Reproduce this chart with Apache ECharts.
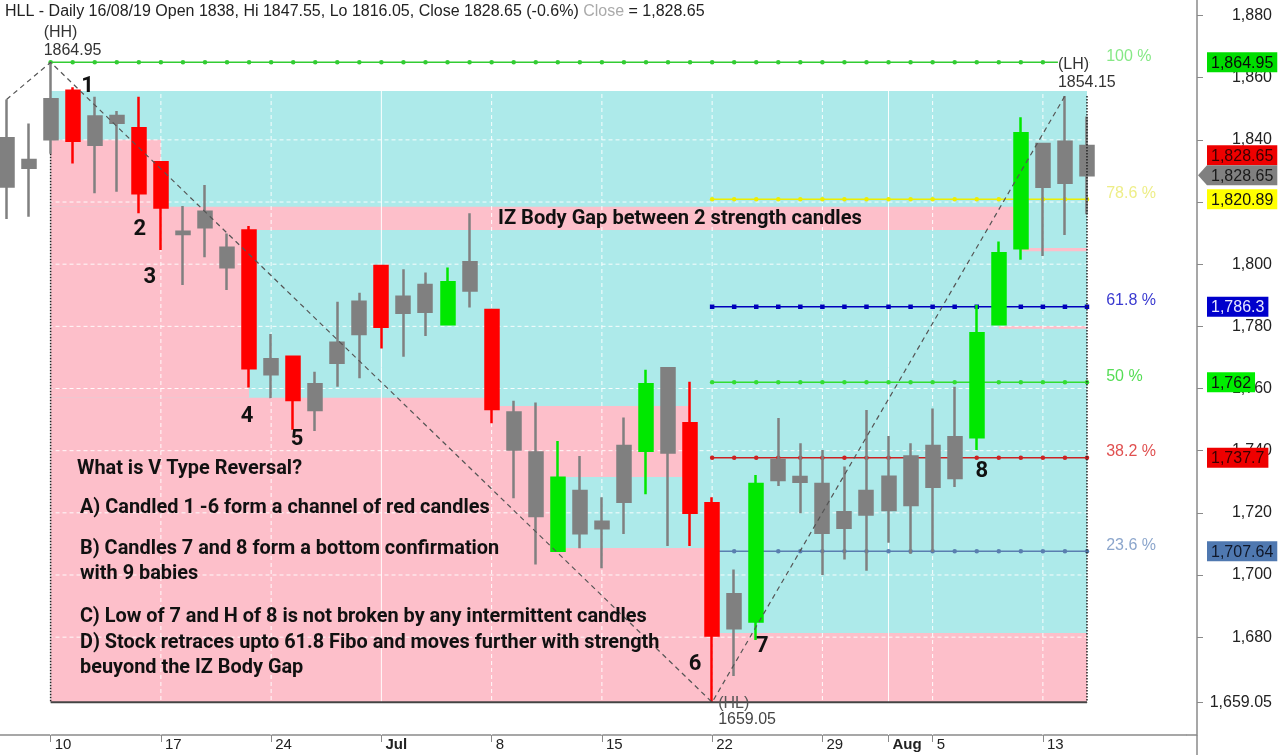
<!DOCTYPE html>
<html><head><meta charset="utf-8">
<script src="https://cdn.jsdelivr.net/npm/echarts@6/dist/echarts.min.js"></script>
<style>html,body{margin:0;padding:0;background:#fff;}#c{width:1280px;height:755px;}</style>
</head><body><div id="c"></div>
<script>
// ---------------- data ----------------
const dates = ['06/06','07/06','10/06','11/06','12/06','13/06','14/06','17/06','18/06','19/06','20/06','21/06',
 '24/06','25/06','26/06','27/06','28/06','01/07','02/07','03/07','04/07','05/07','08/07','09/07','10/07','11/07','12/07',
 '15/07','16/07','17/07','18/07','19/07','22/07','23/07','24/07','25/07','26/07','29/07','30/07','31/07','01/08','02/08',
 '05/08','06/08','07/08','08/08','09/08','13/08','14/08','16/08'];
const futureSlots = ['19/08','20/08','21/08','22/08'];
const opens  = [1840.5,1831,1840.2,1855.8,1847.5,1845.5,1843.7,1832.8,1810.4,1811.9,1805.3,1810.8,1764.6,1770.2,1761.4,1768.3,1777.5,1799.4,1784.4,1784.7,1780.7,1791.5,1785.3,1752.3,1739.4,1707.8,1713.4,1717.1,1723.6,1740,1766.5,1748.8,1723.1,1682.9,1685,1730.6,1731.5,1729.3,1715.2,1719.5,1720.9,1722.5,1728.4,1731.2,1744.3,1780.7,1805.1,1838.7,1826.2,1838];
const closes = [1825,1833.5,1853.1,1839.7,1838.4,1847.7,1822.8,1818.2,1809.7,1816.9,1799,1766.5,1769.4,1756.3,1753.1,1774.7,1787.9,1779.9,1789.5,1793.3,1794.2,1800.6,1753.4,1740.4,1719,1731.3,1727,1715,1741.5,1761.4,1739.4,1720,1680.5,1693.8,1729.3,1737,1730,1713.6,1720.2,1727,1731.6,1738.1,1741.5,1744.3,1777.8,1803.5,1842.1,1824.9,1839.4,1828.65];
const lows   = [1814.5,1815.3,1835.5,1832.4,1822.8,1823.3,1816.4,1804.6,1793.3,1802.2,1791.7,1760.3,1756.9,1746.7,1746.3,1760.6,1763.3,1772.9,1770.2,1776.9,1780.5,1786.1,1748.8,1724.7,1703.4,1707.6,1708.6,1702.2,1713.2,1726,1709.3,1709.3,1659.05,1667.5,1679.1,1728.6,1719.9,1700,1705,1701.4,1710.4,1706.8,1707.5,1728.3,1740.2,1780.5,1801.4,1802.6,1809.4,1816.05];
const highs  = [1853,1845.3,1864.95,1856.9,1853.9,1849.3,1853.9,1833,1818.7,1825.5,1809.9,1812.3,1777.5,1770.5,1765.4,1787.9,1790.8,1799.6,1798.4,1797.3,1798.9,1816.4,1785.5,1756.1,1755.5,1743.1,1738.3,1725,1750.7,1766,1766.7,1762.2,1725,1701.8,1732.2,1750.5,1742.4,1740.2,1734.9,1753.1,1744.7,1742.4,1753.6,1760.6,1786.9,1807.3,1847.3,1839,1854.15,1847.55];
// N = normal, R = bearish strength, G = bullish strength
const candleKind = ['N','N','N','R','N','N','R','R','N','N','N','R','N','R','N','N','N','R','N','N','G','N','R','N','N','G','N','N','N','G','N','R','R','N','G','N','N','N','N','N','N','N','N','N','G','G','G','N','N','N'];
const weekTickDates = ['10/06','17/06','24/06','01/07','08/07','15/07','22/07','29/07','01/08','05/08','13/08'];
const weekTickText  = ['10','17','24','Jul','8','15','22','29','Aug','5','13'];
const yTickValues = [1659.05,1680,1700,1720,1740,1760,1780,1800,1820,1840,1860,1880];
const gridValues = [1680,1700,1720,1740,1760,1780,1800,1820,1840,1860];
const fibLevels = [100,78.6,61.8,50,38.2,23.6];
const fibValues = [1864.95,1820.89,1786.3,1762,1737.7,1707.64];
const fibStart  = ['10/06','22/07','22/07','22/07','22/07','22/07'];
const zoneCyan = ['10/06','16/08',1659.05,1855.7];
const zonesPink = [
 ['10/06','17/06',1818.5,1840],
 ['10/06','09/08',1811,1818.5],
 ['10/06','21/06',1757,1811],
 ['10/06','08/07',1754.4,1757],
 ['10/06','19/07',1731.5,1754.4],
 ['10/06','11/07',1708.7,1731.5],
 ['10/06','22/07',1681.3,1708.7],
 ['10/06','16/08',1659.05,1681.3],
 ['09/08','16/08',1804.2,1805.2],
 ['08/08','16/08',1779.2,1780.1]
];
const candleNotes = [['1','11/06','high'],['2','14/06','low'],['3','17/06','low'],['4','21/06','low'],['5','25/06','low'],['6','22/07','low'],['7','24/07','low'],['8','07/08','low']];
const notesText = [
 'What is V Type Reversal?',
 'A) Candled 1 -6 form a channel of red candles',
 'B) Candles 7 and 8 form a bottom confirmation',
 'with 9 babies',
 'C) Low of 7 and H of 8 is not broken by any intermittent candles',
 'D) Stock retraces upto 61.8 Fibo and moves further with strength',
 'beuyond the IZ Body Gap'
];
const gapText = 'IZ Body Gap between 2 strength candles';

// ---------------- derived ----------------
const categories = dates.concat(futureSlots);
const N = dates.length, last = N - 1;
const hhIdx = highs.indexOf(Math.max(...highs));
const hlIdx = lows.indexOf(Math.min(...lows));
let lhIdx = hlIdx + 1;
for (let i = hlIdx + 1; i < N; i++) if (highs[i] > highs[lhIdx]) lhIdx = i;
const swingHigh = highs[hhIdx], swingLow = lows[hlIdx], lowerHigh = highs[lhIdx];
const Y_MIN = 1648.52, Y_MAX = 1885.0;
const ARIAL = '"Liberation Sans", Arial, sans-serif';
const BOLDF = 'Roboto, "Open Sans", sans-serif';
const kindColor = {N:'#808080', R:'#ff0000', G:'#00e800'};
const fibLine = ['#33cc33','#eeee00','#0000bb','#33dd33','#cc2222','#5a7fb0'];
const fibText = ['#86e886','#eeee88','#3a3ad0','#55dd55','#e05050','#8ca6cc'];
const fibSym  = ['circle','circle','rect','circle','circle','circle'];
const fmt = v => v.toLocaleString('en-US', {maximumFractionDigits: 2});

const tickIdxSet = new Set(weekTickDates.map(d => categories.indexOf(d)));
const tickTextMap = {}; weekTickDates.forEach((d, k) => tickTextMap[d] = weekTickText[k]);

// gridlines data
const hData = [];
gridValues.forEach(v => { hData.push([categories[0], v], [categories[categories.length-1], v], [categories[categories.length-1], '-']); });
const vSolid = [], vDash = [];
weekTickDates.forEach((d, k) => {
  const arr = /[A-Za-z]/.test(weekTickText[k]) ? vSolid : vDash;
  arr.push([d, Y_MIN], [d, Y_MAX], [d, '-']);
});

const series = [];
series.push({type:'line', z:2, silent:true, symbol:'none', data:hData,
  lineStyle:{color:'#ffffff', width:1, type:[4,3], opacity:0.9}, animation:false,
  markArea:{silent:true, z:1, label:{show:false}, itemStyle:{color:'#adeaea', opacity:1},
    data:[[{xAxis:zoneCyan[0], yAxis:zoneCyan[2]},{xAxis:zoneCyan[1], yAxis:zoneCyan[3]}]]}});
series.push({type:'line', z:2, silent:true, symbol:'none', data:vDash,
  lineStyle:{color:'#ffffff', width:1, type:[4,3], opacity:0.9},
  markArea:{silent:true, z:1, label:{show:false}, itemStyle:{color:'#fdbfca', opacity:1},
    data: zonesPink.map(z => [{xAxis:z[0], yAxis:z[2]},{xAxis:z[1], yAxis:z[3]}])}});
series.push({type:'line', z:2, silent:true, symbol:'none', data:vSolid,
  lineStyle:{color:'#ffffff', width:1, opacity:0.95}});

fibValues.forEach((v, k) => {
  const s = dates.indexOf(fibStart[k]);
  const d = dates.slice(s).map((dt, j, arr) => j === arr.length - 1
    ? {value:[dt, v], label:{show:true, position:'right', distance:17, offset:[0,-6],
        formatter: fibLevels[k] + ' %', color: fibText[k], fontSize:16, fontFamily:ARIAL}}
    : [dt, v]);
  series.push({type:'line', z:3, silent:true, data:d, symbol:fibSym[k], symbolSize:4.5, showSymbol:true,
    lineStyle:{color:fibLine[k], width:1.6}, itemStyle:{color:fibLine[k]}});
});

series.push({type:'candlestick', z:4, silent:true, barWidth:13.5,
  data: dates.map((d, i) => {
    const c = kindColor[candleKind[i]];
    return {value:[opens[i], closes[i], lows[i], highs[i]],
      itemStyle:{color:c, color0:c, borderColor:c, borderColor0:c, borderColorDoji:c, borderWidth:2.5}};
  })});

series.push({type:'line', z:5, silent:true, symbol:'none',
  data:[[dates[0], highs[0]],[dates[hhIdx], swingHigh],[dates[hlIdx], swingLow],[dates[lhIdx], lowerHigh]],
  lineStyle:{color:'#555', width:1.2, type:[5,4]}});
series.push({type:'line', z:5, silent:true, symbol:'none',
  data:[[dates[hhIdx], lows[hhIdx]],[dates[hhIdx], swingLow],[dates[last], '-'],[dates[last], lowerHigh],[dates[last], swingLow]],
  lineStyle:{color:'#222', width:1.5, type:[1.5,1.5]}});
series.push({type:'line', z:5, silent:true, symbol:'none',
  data:[[dates[hhIdx], swingLow],[dates[last], swingLow]],
  lineStyle:{color:'#444', width:2}});

const option = {
  animation:false,
  backgroundColor:'#ffffff',
  grid:{left:-4.5, top:0, width:1190.7, height:735, containLabel:false, outerBoundsMode:'none'},
  xAxis:{type:'category', data:categories, boundaryGap:true,
    axisLine:{show:true, lineStyle:{color:'#8a8a8a', width:1.5}},
    axisTick:{show:true, alignWithLabel:true, length:7, interval:(i)=>tickIdxSet.has(i), lineStyle:{color:'#8a8a8a'}},
    axisLabel:{show:true, interval:(i)=>tickIdxSet.has(i), align:'left', margin:2, padding:[0,0,0,4],
      fontSize:15, fontFamily:ARIAL, color:'#222',
      formatter:(v)=>{ const t = tickTextMap[v] || ''; return /[A-Za-z]/.test(t) ? '{b|'+t+'}' : t; },
      rich:{b:{fontWeight:'bold', fontSize:15, fontFamily:ARIAL, color:'#222'}}},
    splitLine:{show:false}},
  yAxis:{type:'value', position:'right', offset:10.8, min:Y_MIN, max:Y_MAX, scale:true,
    axisLine:{show:true, lineStyle:{color:'#8a8a8a', width:1.5}},
    axisTick:{show:true, length:6, customValues:yTickValues, lineStyle:{color:'#8a8a8a'}},
    axisLabel:{show:true, customValues:yTickValues, align:'right', margin:75, fontSize:16, fontFamily:ARIAL, color:'#222',
      formatter:(v)=>fmt(v)},
    splitLine:{show:false}},
  series: series
};

const chart = echarts.init(document.getElementById('c'), null, {width:1280, height:755});
chart.setOption(option);

// ---------------- annotations ----------------
const px = (i, v) => chart.convertToPixel({xAxisIndex:0, yAxisIndex:0}, [i, v]);
const mctx = document.createElement('canvas').getContext('2d');
function fit(text, w){ mctx.font = 'bold 100px ' + BOLDF; return 100 * w / mctx.measureText(text).width; }
function twidth(text, size){ mctx.font = size + 'px ' + ARIAL; return mctx.measureText(text).width; }

const g = [];
const band = px(1, 0)[0] - px(0, 0)[0];
const plotRight = px(categories.length - 1, 0)[0] + band / 2;
const axisX = plotRight + 10.8;
const yBottom = px(0, Y_MIN)[1];
g.push({type:'line', z:50, shape:{x1:plotRight, y1:yBottom, x2:axisX, y2:yBottom}, style:{stroke:'#8a8a8a', lineWidth:1.5}});
g.push({type:'line', z:50, shape:{x1:axisX, y1:yBottom, x2:axisX, y2:755}, style:{stroke:'#8a8a8a', lineWidth:1.5}});

// title
const pct = ((closes[last] - closes[last-1]) / closes[last-1] * 100).toFixed(1);
const t1 = `HLL - Daily ${dates[last]}/19 Open ${opens[last]}, Hi ${highs[last]}, Lo ${lows[last]}, Close ${closes[last]} (${pct}%) `;
g.push({type:'text', z:60, x:5, y:12, style:{text:'{a|'+t1+'}{b|Close}{a| = '+fmt(closes[last])+'}', verticalAlign:'middle', align:'left',
  rich:{a:{fontSize:16, fontFamily:ARIAL, fill:'#222'}, b:{fontSize:16, fontFamily:ARIAL, fill:'#aaa'}}}});

// swing labels
function swing(tag, val, i, v, dx, dy){
  const p = px(i, v);
  g.push({type:'text', z:60, x:p[0]+dx, y:p[1]+dy, style:{text:tag, fontSize:16, fontFamily:ARIAL, fill:'#333', align:'left', verticalAlign:'middle', backgroundColor:'#fff'}});
  g.push({type:'text', z:60, x:p[0]+dx, y:p[1]+dy+18, style:{text:String(val), fontSize:16, fontFamily:ARIAL, fill:'#333', align:'left', verticalAlign:'middle'}});
}
swing('(HH)', swingHigh, hhIdx, swingHigh, -7, -30);
swing('(LH)', lowerHigh, lhIdx, lowerHigh, -7, -31);
{
  const p = px(hlIdx, swingLow);
  g.push({type:'text', z:60, x:p[0]+6, y:p[1]+1, style:{text:'(HL)', fontSize:16, fontFamily:ARIAL, fill:'#555', align:'left', verticalAlign:'middle'}});
  g.push({type:'text', z:60, x:p[0]+6, y:p[1]+17, style:{text:String(swingLow), fontSize:16, fontFamily:ARIAL, fill:'#444', align:'left', verticalAlign:'middle'}});
}

// candle numbers
const noteOffset = {'1':[15,-1],'2':[1,16],'3':[-11,28],'4':[-2,29],'5':[4,10],'6':[-17,-38],'7':[6,7],'8':[5,21]};
candleNotes.forEach(([n, d, which]) => {
  const i = dates.indexOf(d);
  const p = px(i, which === 'high' ? highs[i] : lows[i]);
  const o = noteOffset[n];
  g.push({type:'text', z:60, x:p[0]+o[0], y:p[1]+o[1], style:{text:n, fontSize:22, fontWeight:'bold', fontFamily:BOLDF, fill:'#111', align:'center', verticalAlign:'middle'}});
});

// text blocks
const blockPos = [[77,469,227],[80,508,408],[80,549,422],[80,574,118],[80,617,567],[80,643,585],[80,668,223]];
const baseSize = fit(notesText[4], 567);
notesText.forEach((t, k) => {
  const [x, y] = blockPos[k];
  g.push({type:'text', z:60, x, y, style:{text:t, fontSize:baseSize, fontWeight:'bold', fontFamily:BOLDF, fill:'#111', align:'left', verticalAlign:'middle'}});
});
g.push({type:'text', z:60, x:498, y:219, style:{text:gapText, fontSize:fit(gapText, 364), fontWeight:'bold', fontFamily:BOLDF, fill:'#111', align:'left', verticalAlign:'middle'}});

// price tags
const tags = [
  {v:fibValues[0], bg:'#00dd00', fg:'#0a0a0a'},
  {v:closes[last], bg:'#ee0000', fg:'#3a0000', shift:-20},
  {v:closes[last], bg:'#808080', fg:'#1a1a1a', arrow:true},
  {v:fibValues[1], bg:'#ffff00', fg:'#111'},
  {v:fibValues[2], bg:'#0000cc', fg:'#e8e8ff'},
  {v:fibValues[3], bg:'#00ee00', fg:'#111'},
  {v:fibValues[4], bg:'#ee0000', fg:'#3a0000'},
  {v:fibValues[5], bg:'#4f78b0', fg:'#10182a'}
];
tags.forEach(t => {
  const y = px(0, t.v)[1] + (t.shift || 0);
  const txt = fmt(t.v);
  const w = twidth(txt, 16) + 8;
  const x0 = axisX + 10;
  if (t.arrow) {
    g.push({type:'polygon', z:70, shape:{points:[[axisX+1, y],[x0, y-10],[x0+w, y-10],[x0+w, y+10],[x0, y+10]]}, style:{fill:t.bg}});
  } else {
    g.push({type:'rect', z:70, shape:{x:x0, y:y-10, width:w, height:20}, style:{fill:t.bg}});
  }
  g.push({type:'text', z:71, x:x0+4, y:y+1, style:{text:txt, fontSize:16, fontFamily:ARIAL, fill:t.fg, align:'left', verticalAlign:'middle'}});
});

chart.setOption({graphic:g});
</script></body></html>
